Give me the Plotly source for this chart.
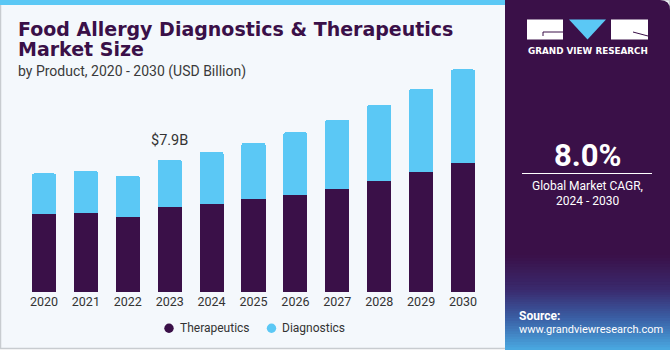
import plotly.graph_objects as go

# ---- data ----
years = ["2020", "2021", "2022", "2023", "2024", "2025", "2026", "2027", "2028", "2029", "2030"]
therapeutics = [4.66, 4.72, 4.50, 5.09, 5.27, 5.57, 5.81, 6.17, 6.65, 7.17, 7.72]
diagnostics = [2.42, 2.51, 2.44, 2.81, 3.09, 3.33, 3.72, 4.12, 4.52, 4.95, 5.57]
series_names = ["Therapeutics", "Diagnostics"]
highlight_label = "$7.9B"
highlight_year = "2023"
cagr_value = "8.0%"
cagr_text = ["Global Market CAGR,", "2024 - 2030"]

W, H = 670, 350
DARK = "#3A1048"
LIGHT = "#5BC8F5"
BG = "#F4F8FC"
FONT = "Roboto"
HEAVY = "DejaVu Sans"


def fx(px):
    return px / W


def fy(py):
    return 1 - py / H


fig = go.Figure()
fig.add_trace(go.Bar(x=years, y=therapeutics, name=series_names[0], marker=dict(color=DARK, line=dict(width=0)),
                     showlegend=False))
fig.add_trace(go.Bar(x=years, y=diagnostics, name=series_names[1], marker=dict(color=LIGHT, line=dict(width=0)),
                     showlegend=False))

shapes = []
# chart background with border
shapes.append(dict(type="rect", xref="paper", yref="paper", x0=fx(0.5), x1=fx(669.5), y0=fy(348.5), y1=fy(0),
                   fillcolor=BG, line=dict(color="#C8CCD0", width=1.5), layer="below"))
# top stripe
shapes.append(dict(type="rect", xref="paper", yref="paper", x0=fx(0), x1=fx(506), y0=fy(5), y1=fy(0),
                   fillcolor="#5BC8F5", line=dict(width=0), layer="below"))
# right panel base
shapes.append(dict(type="path", xref="paper", yref="paper",
                   path=f"M {fx(505)},{fy(350)} L {fx(505)},{fy(0)} L {fx(660)},{fy(0)} "
                        f"Q {fx(670)},{fy(0)} {fx(670)},{fy(10)} L {fx(670)},{fy(350)} Z",
                   fillcolor=DARK, line=dict(width=0), layer="below"))


# panel gradient at bottom
def lerp(c1, c2, t):
    a = [int(c1[i:i + 2], 16) for i in (1, 3, 5)]
    b = [int(c2[i:i + 2], 16) for i in (1, 3, 5)]
    return "#%02x%02x%02x" % tuple(round(a[k] + (b[k] - a[k]) * t) for k in range(3))


stops = [(255, DARK), (290, "#3A2A6E"), (318, "#3A5EA4"), (350, "#4AAAE2")]
for i in range(len(stops) - 1):
    y0, c0 = stops[i]
    y1, c1 = stops[i + 1]
    n = 12
    for j in range(n):
        ya = y0 + (y1 - y0) * j / n
        yb = y0 + (y1 - y0) * (j + 1) / n + 0.6
        shapes.append(dict(type="rect", xref="paper", yref="paper", x0=fx(505), x1=fx(670),
                           y0=fy(min(yb, 350)), y1=fy(ya), fillcolor=lerp(c0, c1, (j + 0.5) / n),
                           line=dict(width=0), layer="below"))
# logo boxes
shapes.append(dict(type="rect", xref="paper", yref="paper", x0=fx(527), x1=fx(563), y0=fy(39.5), y1=fy(19.5),
                   fillcolor="white", line=dict(width=0)))
shapes.append(dict(type="line", xref="paper", yref="paper", x0=fx(543), x1=fx(563), y0=fy(32), y1=fy(32),
                   line=dict(color=DARK, width=1)))
shapes.append(dict(type="line", xref="paper", yref="paper", x0=fx(543), x1=fx(543), y0=fy(32), y1=fy(36),
                   line=dict(color=DARK, width=1)))
shapes.append(dict(type="path", xref="paper", yref="paper",
                   path=f"M {fx(569)},{fy(19.5)} L {fx(606)},{fy(19.5)} L {fx(587.5)},{fy(39.5)} Z",
                   fillcolor=LIGHT, line=dict(width=0)))
shapes.append(dict(type="rect", xref="paper", yref="paper", x0=fx(611), x1=fx(648), y0=fy(39.5), y1=fy(19.5),
                   fillcolor="white", line=dict(width=0)))
shapes.append(dict(type="line", xref="paper", yref="paper", x0=fx(633), x1=fx(648), y0=fy(32), y1=fy(36),
                   line=dict(color=DARK, width=1)))
# CAGR separator
shapes.append(dict(type="line", xref="paper", yref="paper", x0=fx(522), x1=fx(652), y0=fy(173.5), y1=fy(173.5),
                   line=dict(color="white", width=1)))

# manual legend markers
legend_marker_x = [169, 271.5]
legend_colors = [DARK, LIGHT]
for mx, col in zip(legend_marker_x, legend_colors):
    shapes.append(dict(type="circle", xref="paper", yref="paper", x0=fx(mx - 4.7), x1=fx(mx + 4.7),
                       y0=fy(328.2 + 4.7), y1=fy(328.2 - 4.7), fillcolor=col, line=dict(width=0)))

annotations = [
    dict(text="<b>Food Allergy Diagnostics & Therapeutics</b>", x=fx(16), y=fy(29), xanchor="left", yanchor="middle",
         font=dict(family=HEAVY, size=19, color=DARK)),
    dict(text="<b>Market Size</b>", x=fx(16), y=fy(48.5), xanchor="left", yanchor="middle",
         font=dict(family=HEAVY, size=19, color=DARK)),
    dict(text="by Product, 2020 - 2030 (USD Billion)", x=fx(16), y=fy(71.5), xanchor="left", yanchor="middle",
         font=dict(family=FONT, size=14, color="#3A3A3A")),
    dict(text="<b>GRAND VIEW RESEARCH</b>", x=fx(587.5), y=fy(51.5), xanchor="center", yanchor="middle",
         font=dict(family=HEAVY, size=8.8, color="white")),
    dict(text=f"<b>{cagr_value}</b>", x=fx(587), y=fy(155), xanchor="center", yanchor="middle",
         font=dict(family=FONT, size=31, color="white")),
    dict(text=cagr_text[0], x=fx(587.5), y=fy(186), xanchor="center", yanchor="middle",
         font=dict(family=FONT, size=12, color="white")),
    dict(text=cagr_text[1], x=fx(587.5), y=fy(201), xanchor="center", yanchor="middle",
         font=dict(family=FONT, size=12, color="white")),
    dict(text="<b>Source:</b>", x=fx(517), y=fy(316), xanchor="left", yanchor="middle",
         font=dict(family=FONT, size=12, color="white")),
    dict(text="www.grandviewresearch.com", x=fx(517), y=fy(329.5), xanchor="left", yanchor="middle",
         font=dict(family=FONT, size=11, color="white")),
]
for name, mx in zip(series_names, legend_marker_x):
    annotations.append(dict(text=name, x=fx(mx + 8.5), y=fy(328), xanchor="left", yanchor="middle",
                            font=dict(family=FONT, size=12, color="#333333")))
hi = years.index(highlight_year)
annotations.append(dict(text=highlight_label, x=hi, y=therapeutics[hi] + diagnostics[hi],
                        xref="x", yref="y", xanchor="center", yanchor="bottom", yshift=9, showarrow=False,
                        font=dict(family=FONT, size=14.5, color="#333333")))
for a in annotations:
    a.setdefault("xref", "paper")
    a.setdefault("yref", "paper")
    a.setdefault("showarrow", False)

plot_top, plot_bottom = 60, 292
fig.update_layout(
    width=W, height=H,
    margin=dict(l=0, r=0, t=0, b=0),
    paper_bgcolor="white", plot_bgcolor="rgba(0,0,0,0)",
    barmode="stack", bargap=0.427, barcornerradius=2,
    font=dict(family=FONT, color="#333333"),
    xaxis=dict(type="category", domain=[fx(23), fx(484)], range=[-0.5, 10.5], showgrid=False, showline=False,
               zeroline=False, ticks="", tickfont=dict(family=FONT, size=12.5, color="#333333"), fixedrange=True),
    yaxis=dict(domain=[fy(plot_bottom), fy(plot_top)], range=[0, (plot_bottom - plot_top) * 0.05971],
               visible=False, showgrid=False, fixedrange=True),
    shapes=shapes,
    annotations=annotations,
    showlegend=False,
)

fig.write_html("out.html")
